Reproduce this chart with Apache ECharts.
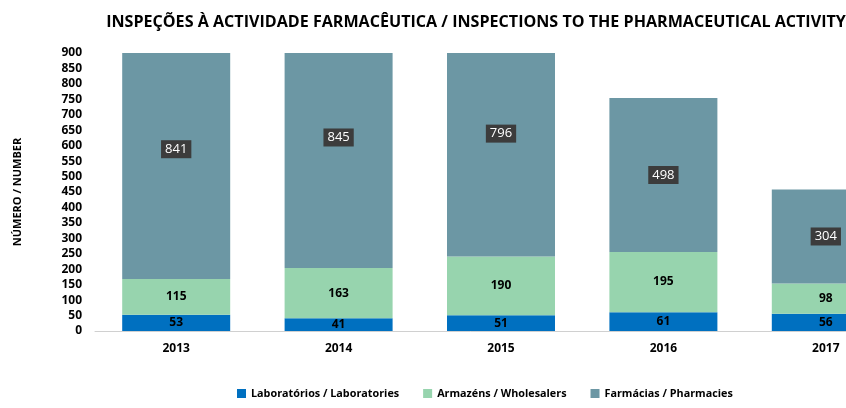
<!DOCTYPE html>
<html>
<head>
<meta charset="utf-8">
<script src="https://cdn.jsdelivr.net/npm/echarts@6/dist/echarts.min.js"></script>
<style>
  html, body { margin: 0; padding: 0; background: #fff; }
  #chart { width: 846px; height: 408px; }
</style>
</head>
<body>
<div id="chart"></div>
<script>
const years = ['2013', '2014', '2015', '2016', '2017']
const laboratorios = [53, 41, 51, 61, 56]
const armazens = [115, 163, 190, 195, 98]
const farmacias = [841, 845, 796, 498, 304]

const yMax = 900
const gridTop = 53
const gridBottom = 77
const plotHeight = 408 - gridTop - gridBottom
const font = '"Open Sans", sans-serif'

// label da farmácia fica no centro da barra inteira (mesmo cortada)
const farmaciaData = farmacias.map((v, i) => {
  const base = laboratorios[i] + armazens[i]
  let dy = 0
  if (base + v > yMax) {
    const full = base + v / 2
    const cut = (base + yMax) / 2
    dy = -(full - cut) * plotHeight / yMax
  }
  return { value: v, label: { offset: [0, dy] } }
})

const chart = echarts.init(document.getElementById('chart'))

const option = {
  animation: false,
  title: {
    text: 'INSPEÇÕES À ACTIVIDADE FARMACÊUTICA / INSPECTIONS TO THE PHARMACEUTICAL ACTIVITY',
    left: 471,
    textAlign: 'center',
    top: 9,
    textStyle: { fontFamily: font, fontSize: 16.1, fontWeight: 'bold', color: '#000' }
  },
  legend: {
    bottom: 4,
    left: 232,
    icon: 'rect',
    itemWidth: 9,
    itemHeight: 9,
    itemGap: 24,
    textStyle: { fontFamily: font, fontSize: 10.8, fontWeight: 'bold', color: '#000' },
    data: ['Laboratórios / Laboratories', 'Armazéns / Wholesalers', 'Farmácias / Pharmacies']
  },
  grid: {
    left: 95,
    top: gridTop,
    bottom: gridBottom,
    right: -61,
    outerBoundsMode: 'none',
    containLabel: false
  },
  xAxis: {
    type: 'category',
    data: years,
    axisTick: { show: false },
    axisLine: { lineStyle: { color: '#d0d0d0' } },
    axisLabel: { fontFamily: font, fontSize: 12, fontWeight: 'bold', color: '#000', margin: 12 }
  },
  yAxis: {
    type: 'value',
    min: 0,
    max: yMax,
    interval: 50,
    name: 'NÚMERO / NUMBER',
    nameLocation: 'middle',
    nameGap: 72,
    nameTextStyle: { fontFamily: font, fontSize: 11, fontWeight: 'bold', color: '#000' },
    axisLine: { show: false },
    axisTick: { show: false },
    splitLine: { show: false },
    axisLabel: { fontFamily: font, fontSize: 12, fontWeight: 'bold', color: '#000', margin: 13 }
  },
  series: [
    {
      name: 'Laboratórios / Laboratories',
      type: 'bar',
      stack: 'total',
      barCategoryGap: '33.5%',
      data: laboratorios,
      itemStyle: { color: '#0070C0' },
      label: { show: true, position: 'inside', fontFamily: font, fontSize: 12, fontWeight: 'bold', color: '#000' }
    },
    {
      name: 'Armazéns / Wholesalers',
      type: 'bar',
      stack: 'total',
      data: armazens,
      itemStyle: { color: '#97D4AE' },
      label: { show: true, position: 'inside', fontFamily: font, fontSize: 12, fontWeight: 'bold', color: '#000' }
    },
    {
      name: 'Farmácias / Pharmacies',
      type: 'bar',
      stack: 'total',
      data: farmaciaData,
      itemStyle: { color: '#6C97A4' },
      label: {
        show: true,
        position: 'inside',
        fontFamily: font,
        fontSize: 13,
        color: '#fff',
        backgroundColor: '#3c3c3c',
        padding: [3, 4, 2, 4]
      }
    }
  ]
}

chart.setOption(option)
</script>
</body>
</html>
